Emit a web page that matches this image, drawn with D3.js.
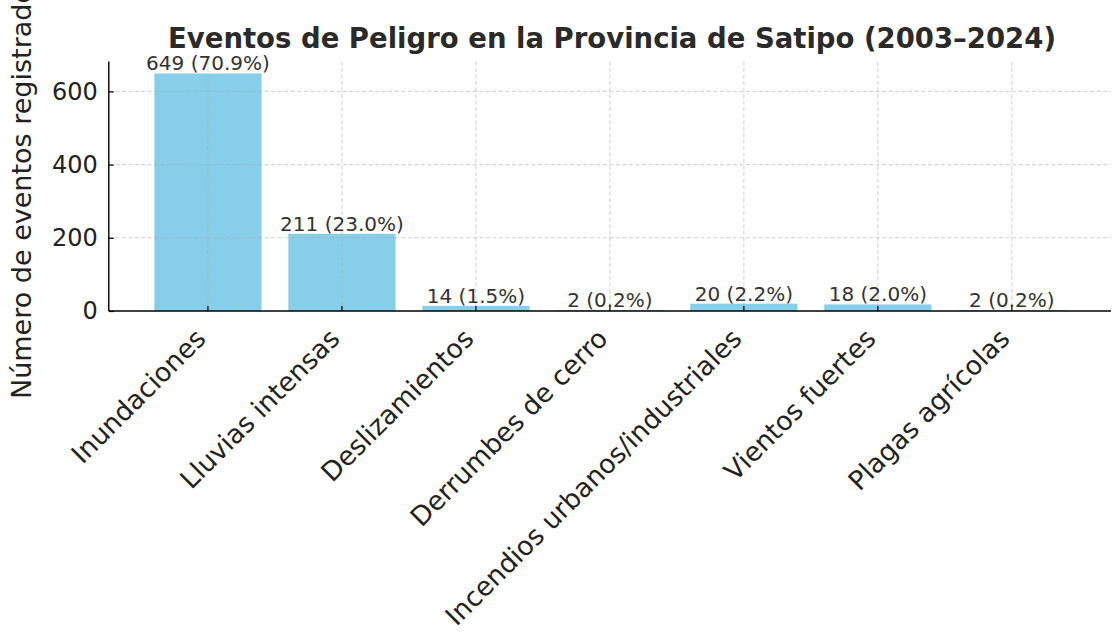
<!DOCTYPE html>
<html>
<head>
<meta charset="utf-8">
<script src="https://cdn.jsdelivr.net/npm/d3@7"></script>
<style>
  html, body { margin: 0; padding: 0; background: #fff; }
  svg { display: block; font-family: "DejaVu Sans", sans-serif; }
</style>
</head>
<body>
<svg id="chart" width="1113" height="632"></svg>
<script>
// Hazard events recorded in Satipo province, 2003–2024
const categories = [
  "Inundaciones",
  "Lluvias intensas",
  "Deslizamientos",
  "Derrumbes de cerro",
  "Incendios urbanos/industriales",
  "Vientos fuertes",
  "Plagas agrícolas"
];
const counts = [649, 211, 14, 2, 20, 18, 2];
const percents = ["70.9", "23.0", "1.5", "0.2", "2.2", "2.0", "0.2"];
const yTicks = [0, 200, 400, 600];

const titleText = "Eventos de Peligro en la Provincia de Satipo (2003–2024)";
const yLabelText = "Número de eventos registrados";

const svg = d3.select("#chart");
const plot = { left: 108.8, right: 1111, top: 61.6, bottom: 311 };

const x = d3.scaleBand()
  .domain(categories)
  .range([plot.left, plot.right])
  .paddingInner(0.2)
  .paddingOuter(0.34);

const y = d3.scaleLinear()
  .domain([0, d3.max(counts) * 1.05])
  .range([plot.bottom, plot.top]);

const data = categories.map((c, i) => ({ cat: c, value: counts[i], pct: percents[i] }));

// bars
svg.append("g")
  .selectAll("rect")
  .data(data)
  .join("rect")
  .attr("x", d => x(d.cat))
  .attr("width", x.bandwidth())
  .attr("y", d => y(d.value))
  .attr("height", d => y(0) - y(d.value))
  .attr("fill", "#87ceeb");

// dashed grid, drawn over the bars
const grid = svg.append("g")
  .attr("stroke", "#a8a8a8")
  .attr("stroke-opacity", 0.6)
  .attr("stroke-width", 0.9)
  .attr("stroke-dasharray", "4,2.5");
grid.selectAll("line.h")
  .data(yTicks.filter(t => t > 0))
  .join("line")
  .attr("x1", plot.left).attr("x2", plot.right)
  .attr("y1", d => y(d)).attr("y2", d => y(d));
grid.selectAll("line.v")
  .data(categories)
  .join("line")
  .attr("x1", d => x(d) + x.bandwidth() / 2)
  .attr("x2", d => x(d) + x.bandwidth() / 2)
  .attr("y1", plot.top).attr("y2", plot.bottom);

// y axis
const yAxis = svg.append("g")
  .attr("transform", `translate(${plot.left},0)`)
  .call(d3.axisLeft(y).tickValues(yTicks).tickSizeInner(-5).tickSizeOuter(0).tickPadding(11));
yAxis.select(".domain").attr("stroke", "#000").attr("stroke-width", 1.4)
  .attr("d", `M0,${plot.top}V${plot.bottom}`);
yAxis.selectAll(".tick line").attr("stroke", "#000").attr("stroke-width", 1.2);
yAxis.selectAll(".tick text")
  .attr("font-size", 24)
  .attr("font-family", "DejaVu Sans")
  .attr("fill", "#222");

// x axis
const xAxis = svg.append("g")
  .attr("transform", `translate(0,${plot.bottom})`)
  .call(d3.axisBottom(x).tickSizeInner(-5).tickSizeOuter(0));
xAxis.select(".domain").attr("stroke", "#000").attr("stroke-width", 1.4)
  .attr("d", `M${plot.left},0H${plot.right}`);
xAxis.selectAll(".tick line").attr("stroke", "#000").attr("stroke-width", 1.2);
xAxis.selectAll(".tick text")
  .attr("font-size", 26.5)
  .attr("font-family", "DejaVu Sans")
  .attr("fill", "#222")
  .attr("text-anchor", "end")
  .attr("dy", null)
  .attr("dominant-baseline", "middle")
  .attr("y", 0)
  .attr("x", 0)
  .attr("transform", "translate(-6,24) rotate(-45)");

// value labels above bars
svg.append("g")
  .selectAll("text")
  .data(data)
  .join("text")
  .attr("x", d => x(d.cat) + x.bandwidth() / 2)
  .attr("y", d => y(d.value) - 3)
  .attr("text-anchor", "middle")
  .attr("font-size", 20)
  .attr("fill", "#333")
  .text(d => `${d.value} (${d.pct}%)`);

// title
svg.append("text")
  .attr("x", 612)
  .attr("y", 48)
  .attr("text-anchor", "middle")
  .attr("font-size", 27.5)
  .attr("font-weight", "bold")
  .attr("fill", "#2a2a2a")
  .text(titleText);

// y axis label
svg.append("text")
  .attr("transform", `translate(31,186) rotate(-90)`)
  .attr("text-anchor", "middle")
  .attr("font-size", 27)
  .attr("fill", "#222")
  .text(yLabelText);
</script>
</body>
</html>
